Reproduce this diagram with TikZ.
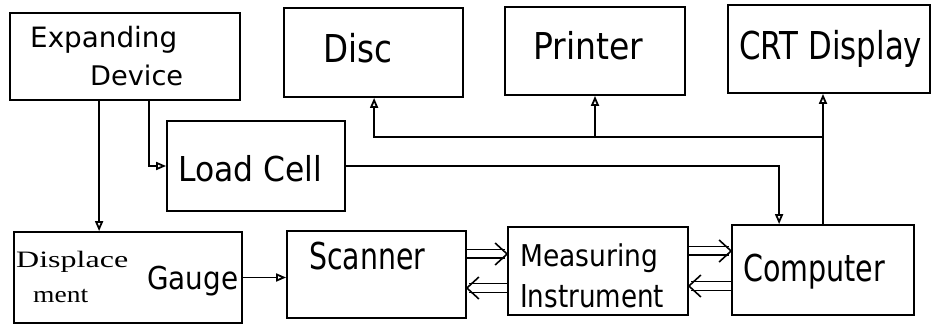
\documentclass[tikz,border=0pt]{standalone}
\usepackage{fontspec}
\usepackage{graphicx}
\usetikzlibrary{arrows.meta,calc}
\newfontfamily\labfont{DejaVu Sans}
\newfontfamily\serfont{Liberation Serif}
\newcommand\lbl[3]{\resizebox{#1pt}{\height}{\fontsize{#2pt}{#2pt}\selectfont #3}}
% #1 start, #2 end (tip), #3 backward x offset of the chevron arms
\newcommand\dblarrow[3]{%
  \draw[dblline] (#1) -- ([xshift=#3*0.15]#2);
  \draw[barb] ([xshift=#3,yshift=11pt]#2) -- (#2) -- ([xshift=#3,yshift=-11pt]#2);}
\tikzset{
  blk/.style={draw, line width=1.8pt, minimum width=#1, inner sep=0pt},
  txt/.style={anchor=base west, inner sep=0pt, font=\labfont},
  arr/.style={line width=1.8pt, -{Triangle[open,length=10pt,width=8pt]}},
  dblline/.style={double, double distance=7pt, line width=1.6pt},
  barb/.style={line width=1.6pt, line join=miter},
}
\begin{document}
\begin{tikzpicture}[x=1pt,y=-1pt]
\useasboundingbox (0,0) rectangle (933,328);
% boxes
\node[blk=230pt, minimum height=87pt] (exp)  at (125,56.5) {};
\node[blk=178pt, minimum height=90pt] (load) at (256,166) {};
\node[blk=228pt, minimum height=91pt] (disp) at (128,277.5) {};
\node[blk=179pt, minimum height=87pt] (scan) at (376.5,274.5) {};
\node[blk=180pt, minimum height=88pt] (meas) at (598,271) {};
\node[blk=182pt, minimum height=90pt] (comp) at (823,270) {};
\node[blk=179pt, minimum height=89pt] (disc) at (373.5,52.5) {};
\node[blk=180pt, minimum height=88pt] (prin) at (595,51) {};
\node[blk=202pt, minimum height=88pt] (crt)  at (829,49) {};
% labels
\node[txt] (t1) at (30,48)   {\lbl{147}{28}{Expanding}};
\node[txt] (t2) at (90,86)   {\lbl{93}{27}{Device}};
\node[txt] (t3) at (178,182) {\lbl{144}{34.3}{Load Cell}};
\node[txt, font=\serfont] (t4) at (16,268) {\lbl{112}{23.5}{Displace}};
\node[txt, font=\serfont] (t5) at (33,302) {\lbl{55}{23.5}{ment}};
\node[txt] (t6) at (147,290) {\lbl{91}{31.5}{Gauge}};
\node[txt] (t7) at (323,63)  {\lbl{69}{38.4}{Disc}};
\node[txt] (t8) at (533,60)  {\lbl{110}{37}{Printer}};
\node[txt] (t9) at (739,60)  {\lbl{183}{38.4}{CRT Display}};
\node[txt] (t10) at (309,270) {\lbl{116}{37}{Scanner}};
\node[txt] (t11) at (520,267) {\lbl{138}{30}{Measuring}};
\node[txt] (t12) at (520,308) {\lbl{144}{31.5}{Instrument}};
\node[txt] (t13) at (743,282) {\lbl{142}{37}{Computer}};
% connectors
\draw[arr] ([xshift=90pt]exp.south west) -- ([xshift=90pt]exp.south west |- disp.north);
\draw[arr] ([xshift=140pt]exp.south west) |- (load.west);
\draw[arr] (disp.east) -- (scan.west |- disp.east);
\draw[arr] (load.east) -| ([xshift=48pt]comp.north west);
\draw[arr] (comp.north) -- (comp.north |- crt.south);
\coordinate (bus) at (823,137);
\draw[arr] (bus) -| ([xshift=91pt]disc.south west);
\draw[arr] (bus -| prin.south) -- (prin.south);
% double arrows
\coordinate (a1) at (scan.east |- 0,254); \coordinate (b1) at (meas.west |- 0,254);
\coordinate (a2) at (meas.west |- 0,288); \coordinate (b2) at (scan.east |- 0,288);
\coordinate (a3) at (meas.east |- 0,251); \coordinate (b3) at (comp.west |- 0,251);
\coordinate (a4) at (comp.west |- 0,286); \coordinate (b4) at (meas.east |- 0,286);
\dblarrow{a1}{b1}{-12pt}
\dblarrow{a2}{b2}{12pt}
\dblarrow{a3}{b3}{-12pt}
\dblarrow{a4}{b4}{12pt}
\end{tikzpicture}
\end{document}
